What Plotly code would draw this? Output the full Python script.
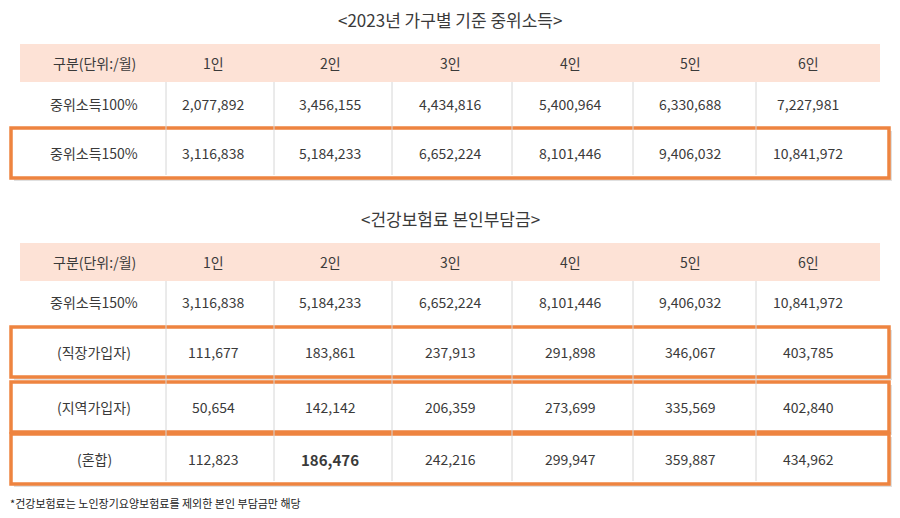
import plotly.graph_objects as go

title1 = "<2023년 가구별 기준 중위소득>"
title2 = "<건강보험료 본인부담금>"
header = ["구분(단위:/월)", "1인", "2인", "3인", "4인", "5인", "6인"]
t1_labels = ["중위소득100%", "중위소득150%"]
t1_values = [
    ["2,077,892", "3,456,155", "4,434,816", "5,400,964", "6,330,688", "7,227,981"],
    ["3,116,838", "5,184,233", "6,652,224", "8,101,446", "9,406,032", "10,841,972"],
]
t2_labels = ["중위소득150%", "(직장가입자)", "(지역가입자)", "(혼합)"]
t2_values = [
    ["3,116,838", "5,184,233", "6,652,224", "8,101,446", "9,406,032", "10,841,972"],
    ["111,677", "183,861", "237,913", "291,898", "346,067", "403,785"],
    ["50,654", "142,142", "206,359", "273,699", "335,569", "402,840"],
    ["112,823", "186,476", "242,216", "299,947", "359,887", "434,962"],
]
footnote = "*건강보험료는 노인장기요양보험료를 제외한 본인 부담금만 해당"

# layout positions (pixel-like axis units)
col_x = [94, 213, 330, 450, 570, 690, 808]
bounds = [166, 274, 392, 512, 633, 756]
FONT = "Noto Sans CJK KR"
TXT = "#3a3a3a"
ORANGE = "#ee8440"

fig = go.Figure()
shapes, ann = [], []

def add_text(x, y, s, size=14, bold=False):
    ann.append(dict(x=x, y=y, text=f"<b>{s}</b>" if bold else s, showarrow=False,
                    font=dict(family=FONT, size=size, color=TXT), xanchor="center", yanchor="middle"))

def table(title_y, head_y, row_ys, labels, values, boxed, bold_cell=None):
    add_text(450, title_y, title.pop(0), size=17)
    shapes.append(dict(type="rect", x0=20, x1=880, y0=head_y - 19, y1=head_y + 19,
                       fillcolor="#fde2d6", line_width=0, layer="below"))
    for x, h in zip(col_x, header):
        add_text(x, head_y, h)
    top = head_y + 19
    bottom = row_ys[-1] + 25
    for i, y in enumerate(row_ys):
        if i in boxed:
            shapes.append(dict(type="rect", x0=14, x1=892, y0=y - 22, y1=y + 28,
                               fillcolor="rgba(0,0,0,0.12)", line_width=0, layer="below"))
            shapes.append(dict(type="rect", x0=11, x1=889, y0=y - 25, y1=y + 25,
                               line=dict(color=ORANGE, width=3.5), fillcolor="white", layer="below"))
    for b in bounds:
        shapes.append(dict(type="line", x0=b, x1=b, y0=top, y1=bottom - 3,
                           line=dict(color="#d6d6d6", width=1), layer="below"))
    for i, (y, lab, vals) in enumerate(zip(row_ys, labels, values)):
        add_text(col_x[0], y, lab)
        for j, v in enumerate(vals):
            add_text(col_x[j + 1], y, v, size=15 if bold_cell == (i, j) else 14,
                     bold=bold_cell == (i, j))

title = [title1, title2]
table(19, 63, [104, 153], t1_labels, t1_values, boxed={1})
table(218, 262, [302, 352, 407, 459], t2_labels, t2_values, boxed={1, 2, 3}, bold_cell=(3, 1))
ann.append(dict(x=8, y=503, text=footnote, showarrow=False, xanchor="left",
                font=dict(family=FONT, size=11, color="#222")))

fig.update_layout(width=900, height=518, margin=dict(l=0, r=0, t=0, b=0),
                  paper_bgcolor="white", plot_bgcolor="white",
                  xaxis=dict(range=[8, 908], visible=False, fixedrange=True),
                  yaxis=dict(range=[526, 8], visible=False, fixedrange=True),
                  shapes=shapes, annotations=ann, showlegend=False)
fig.write_html("out.html")
